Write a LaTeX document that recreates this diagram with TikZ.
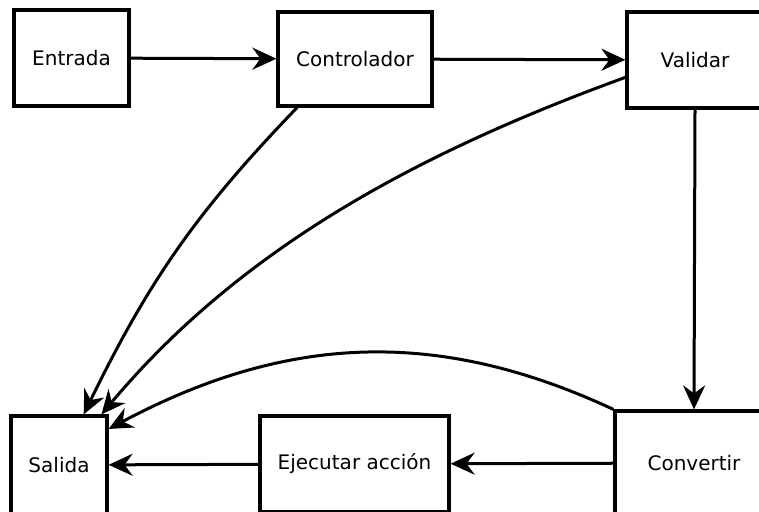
\documentclass[tikz,border=0pt]{standalone}
\usepackage{fontspec}
\setmainfont{DejaVu Sans}
\usetikzlibrary{arrows.meta}

\begin{document}
\begin{tikzpicture}[x=1pt, y=-1pt,
    block/.style={draw, line width=3.2pt, minimum width=#1, inner sep=0pt,
      font=\fontsize{20}{24}\selectfont},
    block/.default=96pt,
    link/.style={line width=3pt, -{Stealth[length=24pt, width=22pt, inset=8pt]}}]
    \useasboundingbox (0,0) rectangle (759,511);

    % Nodes
    \node[block=115pt, minimum height=96pt] (entrada) at (71.5,58) {Entrada};
    \node[block=154pt, minimum height=94pt] (controlador) at (355,59) {Controlador};
    \node[block=136pt, minimum height=96pt] (validar) at (695,60) {Validar};
    \node[block=158pt, minimum height=104pt] (convertir) at (694,463) {Convertir};
    \node[block=189pt, minimum height=96pt] (ejecutar) at (354.5,464) {Ejecutar acción};
    \node[block=96pt, minimum height=98pt] (salida) at (59,465) {Salida};

    % Edges
    \draw[link] (entrada) -- (controlador);
    \draw[link] (controlador) -- (validar);
    \draw[link] (validar.south) -- (convertir.north);
    \draw[link] (convertir) -- (ejecutar);
    \draw[link] (ejecutar) -- (salida);
    \draw[link] (controlador.-140) to[out=-134, in=64] (salida.64);
    \draw[link] (validar.-166) to[out=-160, in=50, looseness=0.9] (salida.50);
    \draw[link] (convertir.north west) to[out=155, in=28] (salida.36);
\end{tikzpicture}
\end{document}
